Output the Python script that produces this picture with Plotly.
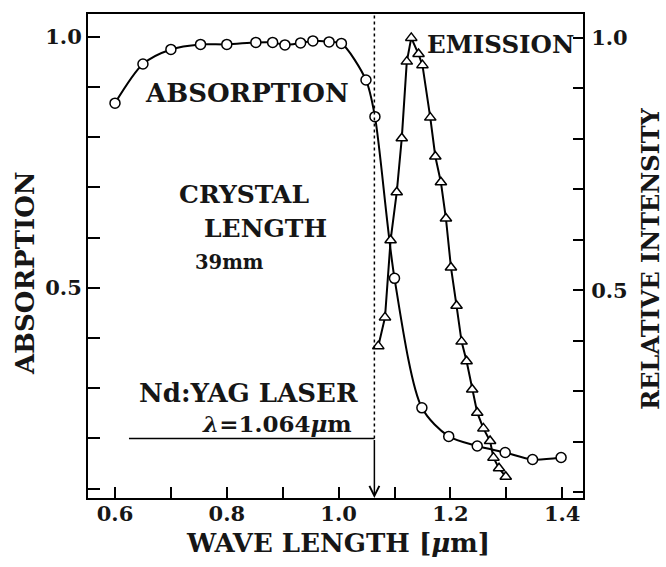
import plotly.graph_objects as go

# ---------------- data ----------------
abs_wavelength = [0.600, 0.650, 0.700, 0.753, 0.800, 0.852, 0.882, 0.904, 0.932, 0.954,
                  0.983, 1.005, 1.049, 1.065, 1.100, 1.149, 1.197, 1.248, 1.298, 1.347, 1.398]
absorption = [0.868, 0.946, 0.975, 0.985, 0.985, 0.989, 0.989, 0.984, 0.988, 0.992,
              0.990, 0.987, 0.914, 0.841, 0.519, 0.261, 0.204, 0.185, 0.172, 0.158, 0.162]

em_wavelength = [1.071, 1.083, 1.093, 1.104, 1.113, 1.122, 1.130, 1.143, 1.150, 1.164,
                 1.173, 1.183, 1.192, 1.201, 1.211, 1.220, 1.229, 1.239, 1.248, 1.259,
                 1.271, 1.277, 1.287, 1.299]
emission = [0.389, 0.446, 0.599, 0.694, 0.801, 0.953, 1.000, 0.968, 0.946, 0.842,
            0.765, 0.714, 0.642, 0.545, 0.469, 0.398, 0.359, 0.303, 0.257, 0.226,
            0.201, 0.168, 0.147, 0.130]

x_tickvals = [0.6, 0.7, 0.8, 0.9, 1.0, 1.1, 1.2, 1.3, 1.4]
x_ticktext = ["0.6", "", "0.8", "", "1.0", "", "1.2", "", "1.4"]
y_tickvals = [0.1, 0.2, 0.3, 0.4, 0.5, 0.6, 0.7, 0.8, 0.9, 1.0]
y_ticktext = ["", "", "", "", "0.5", "", "", "", "", "1.0"]

laser_wavelength = 1.064
laser_marker_level = 0.2
laser_line_start = 0.625

x_range = [0.5517, 1.4372]
y_range = [0.0813, 1.0456]
y2_range = [0.088, 1.0474]

FONT = "DejaVu Serif"
INK = "#161616"

fig = go.Figure()

fig.add_trace(go.Scatter(
    x=abs_wavelength, y=absorption, mode="lines+markers",
    line=dict(color="black", width=2, shape="spline", smoothing=0.8),
    marker=dict(symbol="circle", size=10, color="white",
                line=dict(color="black", width=1.5)),
    showlegend=False, yaxis="y"))

fig.add_trace(go.Scatter(
    x=em_wavelength, y=emission, mode="lines+markers",
    line=dict(color="black", width=2),
    marker=dict(symbol="triangle-up", size=10, color="white",
                line=dict(color="black", width=1.5)),
    showlegend=False, yaxis="y2"))

# laser marker lines
fig.add_shape(type="line", xref="x", yref="y",
              x0=laser_wavelength, x1=laser_wavelength,
              y0=laser_marker_level, y1=y_range[1],
              line=dict(color="black", width=1.5, dash="dot"))
fig.add_shape(type="line", xref="x", yref="y",
              x0=laser_line_start, x1=laser_wavelength,
              y0=laser_marker_level, y1=laser_marker_level,
              line=dict(color="black", width=1.5))
fig.add_annotation(x=laser_wavelength, y=y_range[0], xref="x", yref="y",
                   ax=laser_wavelength, ay=laser_marker_level, axref="x", ayref="y",
                   text="", showarrow=True, arrowhead=5, arrowsize=1.3,
                   arrowwidth=1.5, arrowcolor="black")

def label(text, x, y, size, ref="data", angle=0):
    fig.add_annotation(
        x=x, y=y, text=text, showarrow=False,
        xref="x" if ref == "data" else "paper",
        yref="y" if ref == "data" else "paper",
        xanchor="center", yanchor="middle",
        textangle=angle,
        font=dict(family=FONT, size=size, color=INK, weight="bold"))

label("ABSORPTION", 0.836, 0.889, 26)
label("CRYSTAL", 0.831, 0.6865, 25)
label("LENGTH", 0.870, 0.619, 25)
label("39mm", 0.804, 0.550, 19.5)
label("Nd:YAG LASER", 0.838, 0.290, 26)
label("<i>λ</i>=1.064<i>μ</i>m", 0.890, 0.230, 23)
label("EMISSION", 1.289, 0.984, 24.5)

label("ABSORPTION", -0.127, 0.465, 26, ref="paper", angle=-90)
label("RELATIVE INTENSITY", 1.137, 0.494, 24, ref="paper", angle=-90)
label("WAVE LENGTH [<i>μ</i>m]", 0.505, -0.094, 26, ref="paper")

tickfont = dict(family=FONT, size=21, color=INK, weight="bold")

fig.update_layout(
    width=666, height=567,
    margin=dict(l=88, r=83, t=12, b=69),
    paper_bgcolor="white", plot_bgcolor="white",
    xaxis=dict(range=x_range, tickvals=x_tickvals, ticktext=x_ticktext,
               ticks="inside", ticklen=11, tickwidth=1.5, tickcolor="black",
               showline=True, linecolor="black", linewidth=2, mirror=True,
               ticklabelstandoff=-4,
               showgrid=False, zeroline=False, tickfont=tickfont),
    yaxis=dict(range=y_range, tickvals=y_tickvals, ticktext=y_ticktext,
               ticks="inside", ticklen=12, tickwidth=1.5, tickcolor="black",
               showline=True, linecolor="black", linewidth=2, ticklabelstandoff=0,
               showgrid=False, zeroline=False, tickfont=tickfont),
    yaxis2=dict(range=y2_range, tickvals=y_tickvals, ticktext=y_ticktext,
                overlaying="y", side="right",
                ticks="inside", ticklen=10, tickwidth=1.5, tickcolor="black",
                showline=True, linecolor="black", linewidth=2, ticklabelstandoff=2,
                showgrid=False, zeroline=False, tickfont=tickfont),
)

fig.write_html("out.html", config={"displayModeBar": False},
               post_script="document.body.style.margin='0';")
